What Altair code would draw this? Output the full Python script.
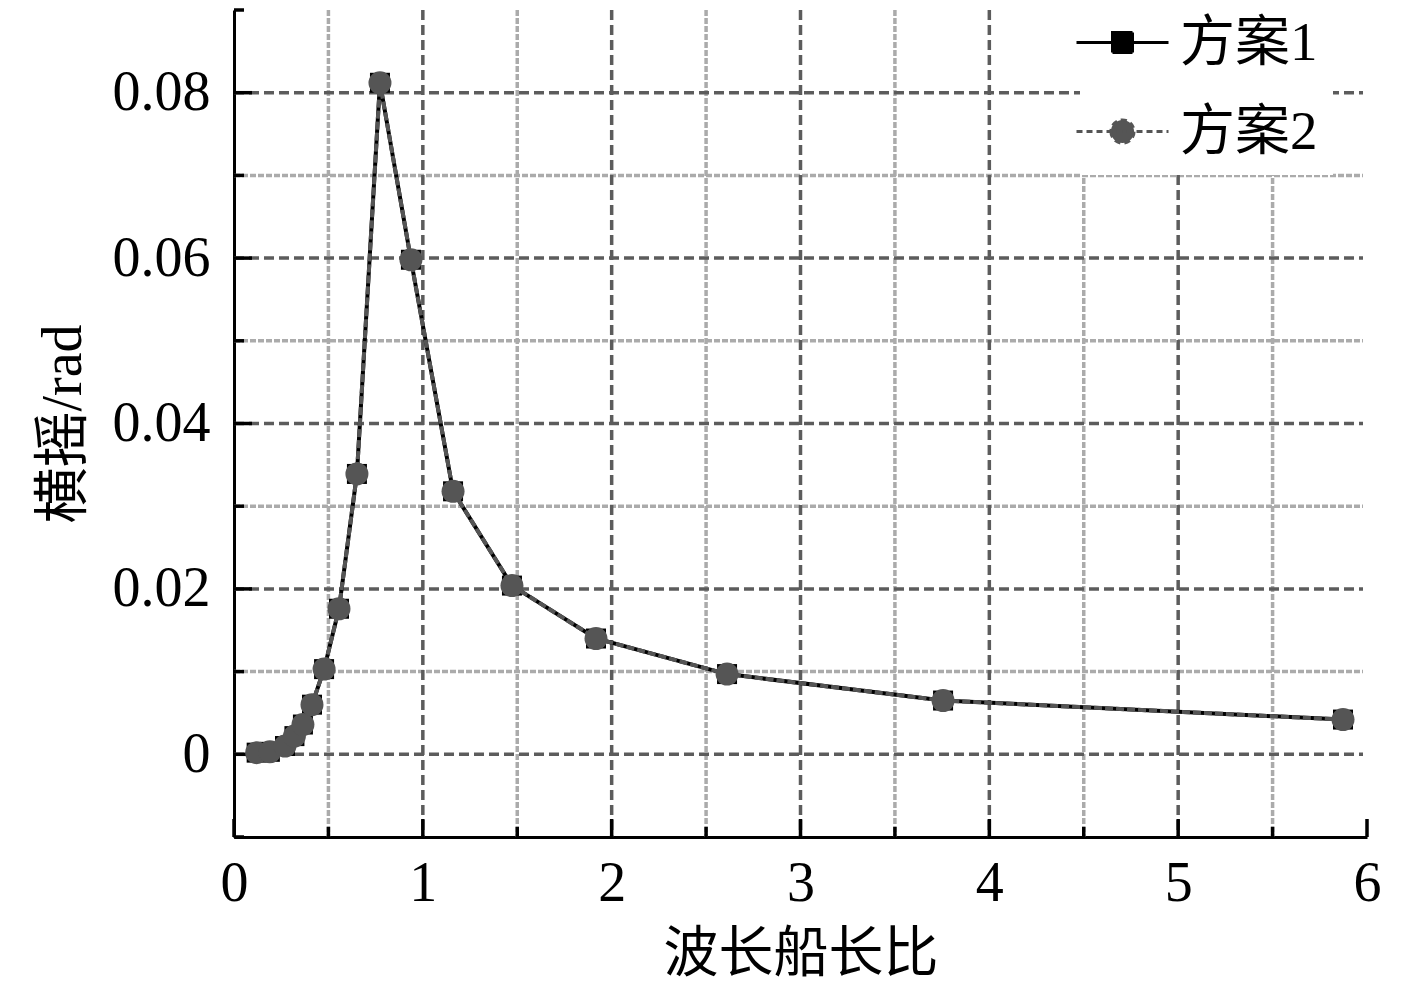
import altair as alt
import pandas as pd

# data
ratio = [0.12, 0.19, 0.27, 0.32, 0.365, 0.413, 0.477, 0.556, 0.651, 0.773,
         0.937, 1.160, 1.472, 1.917, 2.611, 3.755, 5.873]
roll_1 = [0.0002, 0.0003, 0.0010, 0.0022, 0.0036, 0.0060, 0.0103, 0.0176, 0.0339,
          0.0812, 0.0598, 0.0318, 0.0204, 0.0140, 0.0097, 0.0065, 0.0042]
roll_2 = [0.0002, 0.0003, 0.0010, 0.0022, 0.0036, 0.0060, 0.0103, 0.0176, 0.0339,
          0.0812, 0.0598, 0.0318, 0.0204, 0.0140, 0.0097, 0.0065, 0.0042]
series_names = ["方案1", "方案2"]

x_major = [1, 2, 3, 4, 5]
x_minor = [0.5, 1.5, 2.5, 3.5, 4.5, 5.5]
y_major = [0.0, 0.02, 0.04, 0.06, 0.08]
y_minor = [0.01, 0.03, 0.05, 0.07]
x_tick_major = [0, 1, 2, 3, 4, 5, 6]
x_tick_minor = [0.5, 1.5, 2.5, 3.5, 4.5, 5.5]
y_tick_major = [0.0, 0.02, 0.04, 0.06, 0.08]
y_tick_minor = [-0.01, 0.01, 0.03, 0.05, 0.07, 0.09]

W, H = 1133, 827
FONT = "Liberation Serif, Noto Sans CJK SC"

df1 = pd.DataFrame({"x": ratio, "y": roll_1, "series": series_names[0]})
df2 = pd.DataFrame({"x": ratio, "y": roll_2, "series": series_names[1]})
df_all = pd.concat([df1, df2], ignore_index=True)

xs = alt.Scale(domain=[0, 6], nice=False, zero=False)
ys = alt.Scale(domain=[-0.01, 0.09], nice=False, zero=False)

x_axis = alt.Axis(
    values=x_tick_major, format="d", title="波长船长比", grid=False,
    tickSize=0, labelFont=FONT, labelFontSize=56, labelColor="black", labelFlush=False,
    labelPadding=19, titleFont=FONT, titleFontSize=55, titleFontWeight="normal",
    titleColor="black", titlePadding=16, domainColor="black", domainWidth=3)
y_axis = alt.Axis(
    values=y_tick_major, labelExpr="datum.value == 0 ? '0' : format(datum.value, '.2f')",
    title="横摇/rad", grid=False, tickSize=0, labelFont=FONT, labelFontSize=56,
    labelColor="black", labelPadding=24, labelFlush=False, titleFont=FONT, titleFontSize=56,
    titleFontWeight="normal", titleColor="black", titlePadding=20,
    domainColor="black", domainWidth=3)

x_enc = alt.X("x:Q", scale=xs, axis=x_axis)
y_enc = alt.Y("y:Q", scale=ys, axis=y_axis)


def vx(field="v"):
    return alt.X(f"{field}:Q", scale=xs, axis=x_axis)


def vy(field="v"):
    return alt.Y(f"{field}:Q", scale=ys, axis=y_axis)


def vrules(vals, color, dash, width):
    return alt.Chart(pd.DataFrame({"v": vals})).mark_rule(
        color=color, strokeDash=dash, strokeWidth=width).encode(
        x=vx(), y=alt.value(0), y2=alt.value(H))


def hrules(vals, color, dash, width):
    return alt.Chart(pd.DataFrame({"v": vals})).mark_rule(
        color=color, strokeDash=dash, strokeWidth=width).encode(
        y=vy(), x=alt.value(0), x2=alt.value(W - 4))


grid = (vrules(x_minor, "#ababab", [6, 2], 3.5) + hrules(y_minor, "#ababab", [6, 2], 3.5)
        + vrules(x_major, "#5c5c5c", [10, 5], 3.5) + hrules(y_major, "#5c5c5c", [10, 5], 3.5))


def xticks(vals, length):
    return alt.Chart(pd.DataFrame({"v": vals})).mark_rule(color="black", strokeWidth=3.5).encode(
        x=vx(), y=alt.value(H), y2=alt.value(H - length))


def yticks(vals, length):
    return alt.Chart(pd.DataFrame({"v": vals})).mark_rule(color="black", strokeWidth=3.5).encode(
        y=vy(), x=alt.value(0), x2=alt.value(length))


ticks = xticks(x_tick_major, 18) + xticks(x_tick_minor, 10) + yticks(y_tick_major, 18) + yticks(y_tick_minor, 10)

line1 = alt.Chart(df1).mark_line(color="black", strokeWidth=4).encode(x=x_enc, y=y_enc)
pts1 = alt.Chart(df1).mark_point(shape="square", filled=True, color="black", size=400,
                                 opacity=1).encode(x=x_enc, y=y_enc)
line2 = alt.Chart(df2).mark_line(color="#555555", strokeWidth=4, strokeDash=[8, 3]).encode(x=x_enc, y=y_enc)
pts2 = alt.Chart(df2).mark_point(shape="circle", filled=True, color="#555555", size=529,
                                 opacity=1).encode(x=x_enc, y=y_enc)

sym1 = "M-2.3,0H2.3M-0.5,-0.5H0.5V0.5H-0.5Z"
sym2 = "M-2.3,0H2.3M-0.58,0A0.58,0.58,0,1,0,0.58,0A0.58,0.58,0,1,0,-0.58,0Z"

leg = alt.Legend(title=None, orient="none", legendX=846, legendY=-10, fillColor="white",
                 padding=15, symbolSize=1600, symbolStrokeWidth=3, labelOffset=30,
                 labelFont=FONT, labelFontSize=55, labelColor="black", rowPadding=33,
                 labelLimit=400, labelExpr="datum.label + '\u3000'")
legend_layer = alt.Chart(df_all).transform_filter("false").mark_point(opacity=1, strokeWidth=3).encode(
    x=x_enc, y=y_enc,
    fill=alt.Fill("series:N", scale=alt.Scale(domain=series_names, range=["black", "#555555"]), legend=leg),
    stroke=alt.Stroke("series:N", scale=alt.Scale(domain=series_names, range=["black", "#555555"]), legend=leg),
    shape=alt.Shape("series:N", scale=alt.Scale(domain=series_names, range=[sym1, sym2]), legend=leg),
    strokeDash=alt.StrokeDash("series:N", scale=alt.Scale(domain=series_names, range=[[1, 0], [6, 4]]), legend=leg),
)

chart = alt.layer(grid, ticks, line1, pts1, line2, pts2, legend_layer).properties(
    width=W, height=H,
    autosize=alt.AutoSizeParams(type="none"),
    padding={"left": 226, "top": 2, "right": 42, "bottom": 147},
).configure(background="white", view=alt.ViewConfig(stroke=None))

chart.save("out.html", embed_options={"renderer": "svg", "actions": False})
